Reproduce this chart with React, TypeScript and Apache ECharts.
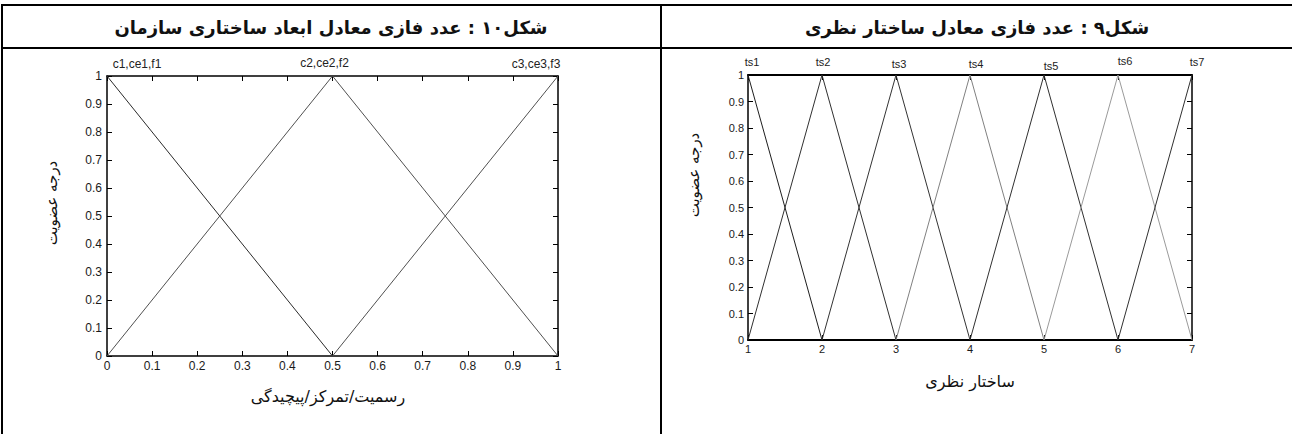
import React, { useEffect, useRef } from "react";
import * as echarts from "echarts";

// ---------- data ----------
const leftTitle = "شکل۱۰ : عدد فازی معادل ابعاد ساختاری سازمان";
const rightTitle = "شکل۹ : عدد فازی معادل ساختار نظری";
const yName = "درجه عضویت";
const leftXName = "رسمیت/تمرکز/پیچیدگی";
const rightXName = "ساختار نظری";

const leftNames = ["c1,ce1,f1", "c2,ce2,f2", "c3,ce3,f3"];
const leftSeries: number[][][] = [
  [[0, 1], [0.5, 0]],
  [[0, 0], [0.5, 1], [1, 0]],
  [[0.5, 0], [1, 1]],
];
const leftPeakIndex = [0, 1, 1];

const rightNames = ["ts1", "ts2", "ts3", "ts4", "ts5", "ts6", "ts7"];
const rightSeries: number[][][] = [
  [[1, 1], [2, 0]],
  [[1, 0], [2, 1], [3, 0]],
  [[2, 0], [3, 1], [4, 0]],
  [[3, 0], [4, 1], [5, 0]],
  [[4, 0], [5, 1], [6, 0]],
  [[5, 0], [6, 1], [7, 0]],
  [[6, 0], [7, 1]],
];
const rightPeakIndex = [0, 1, 1, 1, 1, 1, 1];

const leftXRange = [0, 1, 0.1];
const rightXRange = [1, 7, 1];
const yRange = [0, 1, 0.1];

// ---------- styles ----------
const leftColors = ["#2a2a2a", "#505050", "#505050"];
const rightColors = ["#1e1e1e", "#303030", "#333333", "#808080", "#303030", "#9a9a9a", "#303030"];
const leftLabelOffsets = [[30, 0], [-8, -1], [-22, 0]];
const rightLabelOffsets = [[4, -1], [1, -1], [3, 1], [6, 1], [7, 3], [7, -2], [5, -1]];

const numFont = "Liberation Sans, Arial, sans-serif";
const faFont = '"DejaVu Sans", "Noto Sans", sans-serif';

function buildSeries(
  data: number[][][],
  names: string[],
  peaks: number[],
  colors: string[],
  offsets: number[][],
  axisIndex: number,
  lineW: number,
  fontSize: number
) {
  return data.map((pts, i) => ({
    type: "line",
    name: names[i],
    xAxisIndex: axisIndex,
    yAxisIndex: axisIndex,
    symbol: "circle",
    symbolSize: 1,
    showSymbol: true,
    clip: false,
    silent: true,
    itemStyle: { color: "rgba(0,0,0,0)", borderColor: "rgba(0,0,0,0)", borderWidth: 0 },
    lineStyle: { color: colors[i], width: lineW },
    label: { show: false },
    data: pts.map((p, j) =>
      j === peaks[i]
        ? {
            value: p,
            label: {
              show: true,
              position: "top",
              distance: 6,
              offset: offsets[i],
              formatter: names[i],
              fontFamily: numFont,
              fontSize,
              color: "#222",
            },
          }
        : { value: p }
    ),
  }));
}

function xAxisDef(grid: number, pos: "bottom" | "top", range: number[], labels: boolean, lw: number, margin: number, fs: number) {
  return {
    type: "value",
    gridIndex: grid,
    position: pos,
    min: range[0],
    max: range[1],
    interval: range[2],
    axisLine: { show: true, onZero: false, lineStyle: { color: "#000", width: lw } },
    axisTick: { show: true, inside: true, length: 5, lineStyle: { color: "#000", width: 1 } },
    axisLabel: { show: labels, margin, color: "#1a1a1a", fontFamily: numFont, fontSize: fs },
    splitLine: { show: false },
  };
}

function yAxisDef(grid: number, pos: "left" | "right", labels: boolean, lw: number, margin: number, fs: number) {
  return {
    type: "value",
    gridIndex: grid,
    position: pos,
    min: yRange[0],
    max: yRange[1],
    interval: yRange[2],
    axisLine: { show: true, onZero: false, lineStyle: { color: "#000", width: lw } },
    axisTick: { show: true, inside: true, length: 5, lineStyle: { color: "#000", width: 1 } },
    axisLabel: { show: labels, margin, color: "#1a1a1a", fontFamily: numFont, fontSize: fs },
    splitLine: { show: false },
  };
}

function text(x: number, y: number, t: string, font: string, rot = 0) {
  return {
    type: "text",
    x,
    y,
    rotation: rot,
    silent: true,
    style: {
      text: t,
      font,
      fill: "#111",
      align: "center",
      verticalAlign: "middle",
      textAlign: "center",
      textVerticalAlign: "middle",
    },
  };
}

function hline(x1: number, x2: number, y: number, w: number) {
  return { type: "line", silent: true, shape: { x1, y1: y, x2, y2: y }, style: { stroke: "#000", lineWidth: w } };
}
function vline(x: number, y1: number, y2: number, w: number) {
  return { type: "line", silent: true, shape: { x1: x, y1, x2: x, y2 }, style: { stroke: "#000", lineWidth: w } };
}

export default function App() {
  const ref = useRef<HTMLDivElement>(null);
  useEffect(() => {
    if (!ref.current) return;
    const chart = echarts.init(ref.current, undefined, { renderer: "svg" });
    chart.setOption({
      animation: false,
      backgroundColor: "#fff",
      grid: [
        { left: 107, top: 76, width: 451, height: 280 },
        { left: 748, top: 75, width: 444, height: 265 },
      ],
      xAxis: [
        xAxisDef(0, "bottom", leftXRange, true, 1.5, 4, 12),
        xAxisDef(0, "top", leftXRange, false, 1.5, 4, 12),
        xAxisDef(1, "bottom", rightXRange, true, 2, 3, 11),
        xAxisDef(1, "top", rightXRange, false, 2, 3, 11),
      ],
      yAxis: [
        yAxisDef(0, "left", true, 1.5, 5, 12),
        yAxisDef(0, "right", false, 1.5, 5, 12),
        yAxisDef(1, "left", true, 1.5, 4, 11),
        yAxisDef(1, "right", false, 1.5, 4, 11),
      ],
      series: [
        ...buildSeries(leftSeries, leftNames, leftPeakIndex, leftColors, leftLabelOffsets, 0, 1, 12),
        ...buildSeries(rightSeries, rightNames, rightPeakIndex, rightColors, rightLabelOffsets, 2, 1, 11),
      ],
      graphic: [
        hline(1, 1292, 5, 2),
        hline(1, 1292, 48, 2),
        vline(2, 4, 434, 2),
        vline(661, 4, 434, 2),
        text(331, 27, leftTitle, `bold 18px ${faFont}`),
        text(977, 27, rightTitle, `bold 18px ${faFont}`),
        text(52, 203, yName, `15px ${faFont}`, Math.PI / 2),
        text(694, 175, yName, `15px ${faFont}`, Math.PI / 2),
        text(328, 396, leftXName, `16px ${faFont}`),
        text(970, 381, rightXName, `16px ${faFont}`),
      ],
    });
    return () => chart.dispose();
  }, []);
  return (
    <div
      ref={ref}
      style={{ position: "absolute", left: 0, top: 0, width: 1292, height: 434, background: "#fff" }}
    />
  );
}
